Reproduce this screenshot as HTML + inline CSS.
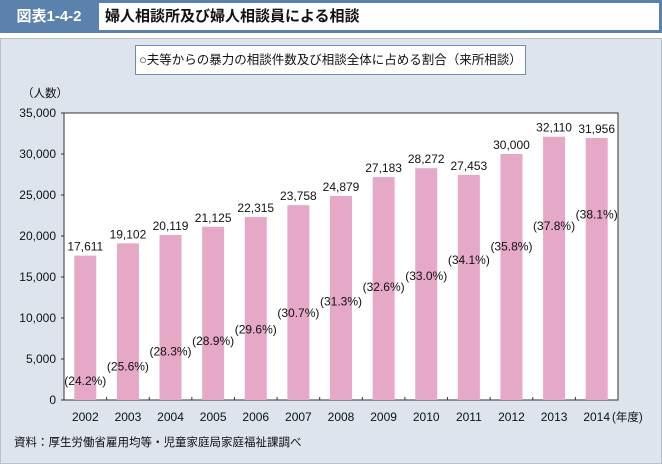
<!DOCTYPE html>
<html><head><meta charset="utf-8"><style>
body{margin:0;width:662px;height:464px;overflow:hidden;background:#fff;font-family:"Liberation Sans","Noto Sans CJK JP",sans-serif;}
#hdr{position:absolute;left:0;top:0;width:662px;height:33px;background:#5a82ad;}
#hdr-num{position:absolute;left:3px;top:3px;width:92px;height:27px;color:#fff;font-weight:bold;font-size:15px;line-height:27px;text-align:center;background:#5a82ad;}
#hdr-title{position:absolute;left:99px;top:3px;width:560px;height:27px;background:#fff;font-weight:bold;font-size:15px;line-height:27px;padding-left:6px;box-sizing:border-box;color:#111;}
#panel{position:absolute;left:0;top:38px;width:660px;height:424px;background:#dde4ec;border:1px solid #b8c2cc;}
#sub{position:absolute;left:135px;top:45px;width:391px;height:30px;background:#fff;border:1px solid #6d8fb5;box-sizing:border-box;font-size:12.5px;line-height:28px;text-align:center;color:#111;}
svg{position:absolute;left:0;top:0}
</style></head><body>
<div id="hdr"></div>
<div id="hdr-num">図表1-4-2</div>
<div id="hdr-title">婦人相談所及び婦人相談員による相談</div>
<div id="panel"></div>
<div id="sub">○夫等からの暴力の相談件数及び相談全体に占める割合（来所相談）</div>
<svg id="c" width="662" height="464"></svg>
<script>
const years=["2002","2003","2004","2005","2006","2007","2008","2009","2010","2011","2012","2013","2014"];
const counts=[17611,19102,20119,21125,22315,23758,24879,27183,28272,27453,30000,32110,31956];
const shares=["24.2","25.6","28.3","28.9","29.6","30.7","31.3","32.6","33.0","34.1","35.8","37.8","38.1"];
const shareLabelLevels=[2300,4100,5900,7200,8600,10600,12000,13800,15100,17100,18700,21200,22600];
const yTicks=[0,5000,10000,15000,20000,25000,30000,35000];
const NS="http://www.w3.org/2000/svg",svg=document.getElementById('c');
const L=64,R=618,T=113,B=400,MAX=35000,bw=(R-L)/years.length;
const y=v=>B-(v/MAX)*(B-T), xc=i=>L+bw*(i+0.5);
function mk(t,a,txt){const e=document.createElementNS(NS,t);for(const k in a)e.setAttribute(k,a[k]);if(txt!=null)e.textContent=txt;svg.appendChild(e);return e;}
let e=mk('rect',{x:L,y:T,width:R-L,height:B-T,fill:'#fff',stroke:'#333','stroke-width':1});

yTicks.forEach(v=>{
 let t=mk('text',{x:L-8,y:y(v)+4,'text-anchor':'end','font-size':12,fill:'#111'},v.toLocaleString('en-US'));
 
 mk('line',{x1:L-3,x2:L,y1:y(v),y2:y(v),stroke:'#333'});
});
let u=mk('text',{x:22,y:97,'font-size':11.5,fill:'#111'},'（人数）');

years.forEach((yr,i)=>{
 let b=mk('rect',{x:xc(i)-11,y:y(counts[i]),width:22,height:B-y(counts[i]),fill:'#e5a8c6'});
 
 let v=mk('text',{x:xc(i),y:y(counts[i])-5,'text-anchor':'middle','font-size':12,fill:'#111'},counts[i].toLocaleString('en-US'));
 
 let p=mk('text',{x:xc(i),y:y(shareLabelLevels[i])+4,'text-anchor':'middle','font-size':12,fill:'#111'},'('+shares[i]+'%)');
 
 let xl=mk('text',{x:xc(i),y:421,'text-anchor':'middle','font-size':12,fill:'#111'},yr);
 
 if(i>0)mk('line',{x1:L+bw*i,x2:L+bw*i,y1:B-3,y2:B,stroke:'#333'});
});
let yu=mk('text',{x:612,y:421,'font-size':11.5,fill:'#111'},'(年度)');

let s=mk('text',{x:14,y:446,'font-size':11.5,fill:'#111'},'資料：厚生労働省雇用均等・児童家庭局家庭福祉課調べ');

</script>
</body></html>
